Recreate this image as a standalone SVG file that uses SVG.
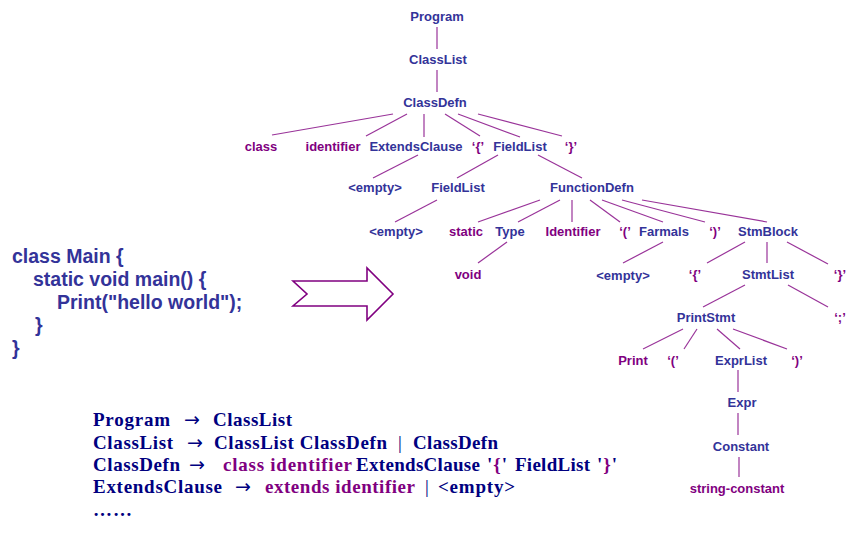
<svg xmlns="http://www.w3.org/2000/svg" width="857" height="533" viewBox="0 0 857 533">
<style>
.n{font-family:"Liberation Sans",Arial,sans-serif;font-weight:bold;font-size:13px;fill:#333399;text-anchor:middle}
.t{font-family:"Liberation Sans",Arial,sans-serif;font-weight:bold;font-size:13px;fill:#800080;text-anchor:middle}
.code{font-family:"Liberation Sans",Arial,sans-serif;font-weight:bold;font-size:19.5px;fill:#333399}
.g{font-family:"Liberation Serif","Times New Roman",serif;font-weight:bold;font-size:19px;fill:#000080}
.gp{fill:#800080}
.bar{font-weight:normal}
.arr{font-family:"DejaVu Sans",sans-serif;font-size:19px;fill:#000080}
#edges line{stroke:#993399;stroke-width:1.2}
</style>
<rect width="857" height="533" fill="#ffffff"/>
<g id="edges">
<line x1="437" y1="27" x2="437" y2="49"/>
<line x1="437" y1="70" x2="437" y2="92"/>
<line x1="393" y1="114" x2="272" y2="135"/>
<line x1="407" y1="114" x2="366" y2="136"/>
<line x1="424" y1="114" x2="424" y2="137"/>
<line x1="445" y1="114" x2="480" y2="136"/>
<line x1="458" y1="114" x2="520" y2="137"/>
<line x1="478" y1="114" x2="562" y2="136"/>
<line x1="418" y1="155" x2="373" y2="178"/>
<line x1="498" y1="155" x2="457" y2="178"/>
<line x1="538" y1="155" x2="582" y2="178"/>
<line x1="437" y1="200" x2="395" y2="222"/>
<line x1="540" y1="200" x2="478" y2="222"/>
<line x1="560" y1="200" x2="518" y2="222"/>
<line x1="572" y1="200" x2="572" y2="222"/>
<line x1="590" y1="200" x2="620" y2="222"/>
<line x1="602" y1="200" x2="663" y2="222"/>
<line x1="622" y1="200" x2="705" y2="222"/>
<line x1="642" y1="200" x2="767" y2="222"/>
<line x1="507" y1="242" x2="478" y2="263"/>
<line x1="663" y1="242" x2="623" y2="263"/>
<line x1="745" y1="242" x2="707" y2="263"/>
<line x1="767" y1="242" x2="767" y2="263"/>
<line x1="787" y1="242" x2="828" y2="264"/>
<line x1="745" y1="285" x2="703" y2="307"/>
<line x1="788" y1="285" x2="828" y2="307"/>
<line x1="683" y1="329" x2="643" y2="349"/>
<line x1="697" y1="329" x2="684" y2="349"/>
<line x1="717" y1="329" x2="740" y2="349"/>
<line x1="733" y1="329" x2="787" y2="349"/>
<line x1="738" y1="370" x2="738" y2="392"/>
<line x1="738" y1="413" x2="738" y2="435"/>
<line x1="739" y1="457" x2="739" y2="477"/>
</g>
<g id="nodes">
<g id="n-program"><text class="n" x="437" y="21">Program</text></g>
<g id="n-classlist"><text class="n" x="438" y="64">ClassList</text></g>
<g id="n-classdefn"><text class="n" x="435" y="107">ClassDefn</text></g>
<g id="n-class"><text class="t" x="261" y="151">class</text></g>
<g id="n-identifier1"><text class="t" x="333" y="151">identifier</text></g>
<g id="n-extendsclause"><text class="n" x="416" y="151">ExtendsClause</text></g>
<g id="n-lbrace1"><text class="t" x="478" y="151">‘{’</text></g>
<g id="n-fieldlist1"><text class="n" x="520" y="151">FieldList</text></g>
<g id="n-rbrace1"><text class="t" x="571" y="151">‘}’</text></g>
<g id="n-empty1"><text class="n" x="375" y="192">&lt;empty&gt;</text></g>
<g id="n-fieldlist2"><text class="n" x="458" y="192">FieldList</text></g>
<g id="n-functiondefn"><text class="n" x="592" y="192">FunctionDefn</text></g>
<g id="n-empty2"><text class="n" x="396" y="236">&lt;empty&gt;</text></g>
<g id="n-static"><text class="t" x="466" y="236">static</text></g>
<g id="n-type"><text class="n" x="510" y="236">Type</text></g>
<g id="n-identifier2"><text class="t" x="573" y="236">Identifier</text></g>
<g id="n-lparen1"><text class="t" x="625" y="236">‘(’</text></g>
<g id="n-farmals"><text class="n" x="664" y="236">Farmals</text></g>
<g id="n-rparen1"><text class="t" x="715" y="236">‘)’</text></g>
<g id="n-stmblock"><text class="n" x="768" y="236">StmBlock</text></g>
<g id="n-void"><text class="t" x="468" y="279">void</text></g>
<g id="n-empty3"><text class="n" x="623" y="280">&lt;empty&gt;</text></g>
<g id="n-lbrace2"><text class="t" x="695" y="279">‘{’</text></g>
<g id="n-stmtlist"><text class="n" x="768" y="279">StmtList</text></g>
<g id="n-rbrace2"><text class="t" x="840" y="279">‘}’</text></g>
<g id="n-printstmt"><text class="n" x="706" y="322">PrintStmt</text></g>
<g id="n-semi"><text class="t" x="840" y="322">‘;’</text></g>
<g id="n-print"><text class="t" x="633" y="365">Print</text></g>
<g id="n-lparen2"><text class="t" x="673" y="365">‘(’</text></g>
<g id="n-exprlist"><text class="n" x="741" y="365">ExprList</text></g>
<g id="n-rparen2"><text class="t" x="797" y="365">‘)’</text></g>
<g id="n-expr"><text class="n" x="742" y="407">Expr</text></g>
<g id="n-constant"><text class="n" x="741" y="451">Constant</text></g>
<g id="n-stringconst"><text class="t" x="737" y="493">string-constant</text></g>
</g>
<g id="code">
<text class="code" x="12" y="263">class Main {</text>
<text class="code" x="33" y="286">static void main() {</text>
<text class="code" x="57" y="309">Print("hello world");</text>
<text class="code" x="35" y="332">}</text>
<text class="code" x="12" y="355">}</text>
</g>
<g id="bigarrow">
<polygon points="293,281 367,281 367,268 393,294 367,320 367,306 293,306 307,294" fill="#ffffff" stroke="#800080" stroke-width="1.6" stroke-linejoin="miter"/>
</g>
<g id="grammar">
<text class="g" x="93" y="426" textLength="77" lengthAdjust="spacing">Program</text>
<text class="arr" x="184" y="426">→</text>
<text class="g" x="213" y="426" textLength="79" lengthAdjust="spacing">ClassList</text>
<text class="g" x="93" y="449" textLength="80" lengthAdjust="spacing">ClassList</text>
<text class="arr" x="187" y="449">→</text>
<text class="g" x="214" y="449" textLength="173" lengthAdjust="spacing">ClassList ClassDefn</text>
<text class="g bar" x="398" y="449">|</text>
<text class="g" x="413" y="449" textLength="85" lengthAdjust="spacing">ClassDefn</text>
<text class="g" x="93" y="471" textLength="87" lengthAdjust="spacing">ClassDefn</text>
<text class="arr" x="189" y="471">→</text>
<text class="g gp" x="223" y="471" textLength="129" lengthAdjust="spacing">class identifier</text>
<text class="g" x="356" y="471" textLength="124" lengthAdjust="spacing">ExtendsClause</text>
<text class="g" x="487" y="471" textLength="20" lengthAdjust="spacing">'<tspan class="gp">{</tspan>'</text>
<text class="g" x="515" y="471" textLength="75" lengthAdjust="spacing">FieldList</text>
<text class="g" x="597" y="471" textLength="20" lengthAdjust="spacing">'<tspan class="gp">}</tspan>'</text>
<text class="g" x="93" y="493" textLength="129" lengthAdjust="spacing">ExtendsClause</text>
<text class="arr" x="235" y="493">→</text>
<text class="g gp" x="265" y="493" textLength="150" lengthAdjust="spacing">extends identifier</text>
<text class="g bar" x="425" y="493">|</text>
<text class="g" x="438" y="493" textLength="77" lengthAdjust="spacing">&lt;empty&gt;</text>
<text class="g" x="93" y="516" textLength="39" lengthAdjust="spacing">……</text>
</g>
</svg>
